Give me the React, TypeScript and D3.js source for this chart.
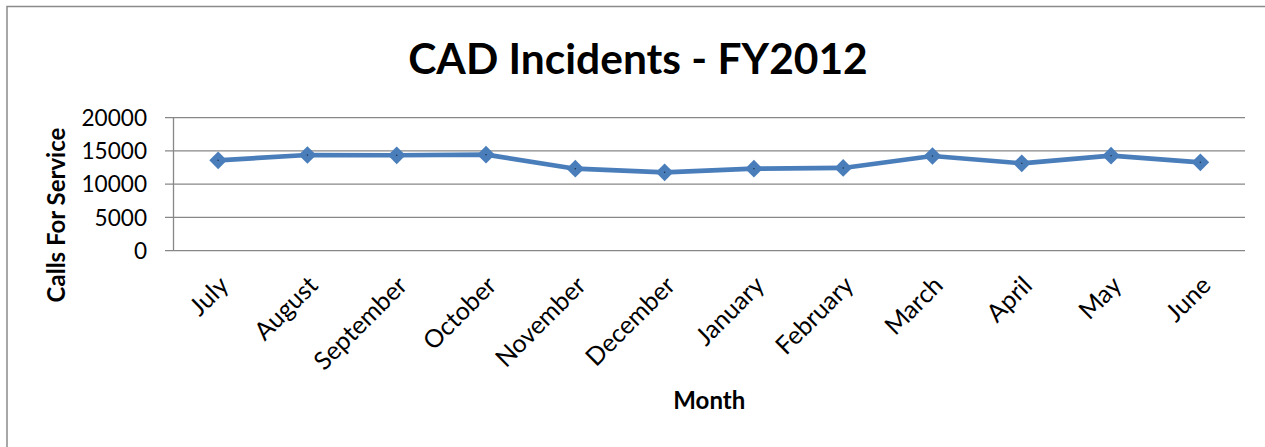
import React from "react";
import * as d3 from "d3";

const months = ["July", "August", "September", "October", "November", "December", "January", "February", "March", "April", "May", "June"];
const calls = [13590, 14390, 14350, 14440, 12330, 11790, 12330, 12440, 14240, 13140, 14290, 13290];
const yTicks = [0, 5000, 10000, 15000, 20000];
const title = "CAD Incidents - FY2012";
const xTitle = "Month";
const yTitle = "Calls For Service";

const W = 1265;
const H = 447;
const plot = { left: 173.5, right: 1245, top: 117.7, bottom: 250.7 };
const LINE = "#4A7EBB";
const GRID = "#878787";
const FONT = "Lato, 'Open Sans', sans-serif";

export default function App() {
  const x = d3.scaleBand<string>().domain(months).range([plot.left, plot.right]);
  const y = d3.scaleLinear().domain([0, 20000]).range([plot.bottom, plot.top]);
  const cx = (m: string) => (x(m) as number) + x.bandwidth() / 2;
  const line = d3
    .line<number>()
    .x((_, i) => cx(months[i]))
    .y((d) => y(d));
  const diamond = d3.symbol().type(d3.symbolDiamond2).size(200)();

  return (
    <svg
      width={W}
      height={H}
      style={{ position: "absolute", left: 0, top: 0, background: "#fff" }}
    >
      <rect x={7} y={6.5} width={1400} height={600} fill="none" stroke="#8a8a8a" strokeWidth={1.5} />
      <text x={638} y={74} textAnchor="middle" fontFamily={FONT} fontWeight="bold" fontSize={42.5} fill="#000">
        {title}
      </text>
      {yTicks.map((t) => (
        <g key={t}>
          <line x1={165} x2={plot.right} y1={y(t)} y2={y(t)} stroke={GRID} strokeWidth={1.3} />
          <text x={147} y={y(t)} dy="0.36em" textAnchor="end" fontFamily={FONT} fontSize={22.6} fill="#000">
            {t}
          </text>
        </g>
      ))}
      <line x1={plot.left} x2={plot.left} y1={plot.top} y2={plot.bottom} stroke={GRID} strokeWidth={1.3} />
      {months.map((m) => (
        <text
          key={m}
          transform={`translate(${cx(m) + 12},${287}) rotate(-45)`}
          textAnchor="end"
          fontFamily={FONT}
          fontSize={25}
          fill="#000"
        >
          {m}
        </text>
      ))}
      <path d={line(calls) as string} fill="none" stroke={LINE} strokeWidth={4.7} strokeLinejoin="round" />
      {calls.map((v, i) => (
        <g key={i} transform={`translate(${cx(months[i])},${y(v)})`}>
          <path d={diamond as string} fill={LINE} />
          <rect x={-0.6} y={-0.6} width={1.2} height={1.2} fill="#1a2a3a" />
        </g>
      ))}
      <text x={(plot.left + plot.right) / 2} y={409} textAnchor="middle" fontFamily={FONT} fontWeight="bold" fontSize={24} fill="#000">
        {xTitle}
      </text>
      <text
        transform={`translate(65,215) rotate(-90)`}
        textAnchor="middle"
        fontFamily={FONT}
        fontWeight="bold"
        fontSize={24}
        fill="#000"
      >
        {yTitle}
      </text>
    </svg>
  );
}
